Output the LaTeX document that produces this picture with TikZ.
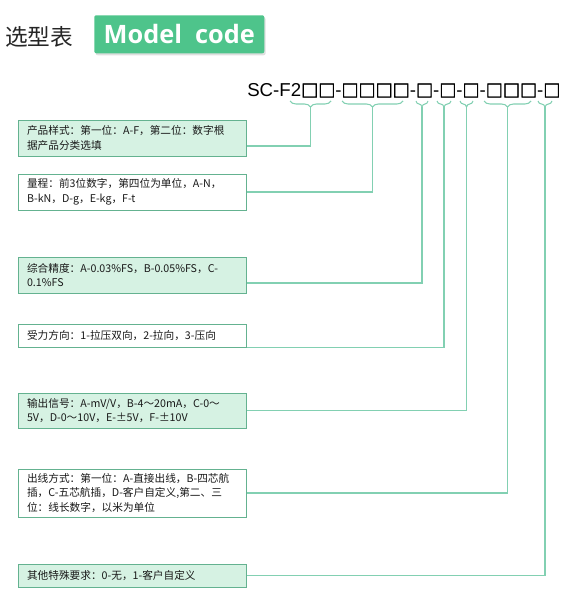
\documentclass[tikz,border=0pt]{standalone}
\usepackage{fontspec}
\usepackage{tikz}
\usetikzlibrary{positioning,calc,shadows,decorations.pathreplacing}
\setmainfont{Noto Sans CJK SC}
\newfontfamily\sqfont{Noto Sans CJK SC}[FakeBold=2.5]
\newfontfamily\codefont{Liberation Sans}
\newfontfamily\titlefont{Open Sans}
\definecolor{boxgreen}{RGB}{214,242,227}
\definecolor{edgegreen}{RGB}{100,178,144}
\definecolor{linkgreen}{RGB}{130,208,178}
\definecolor{titlegreen}{RGB}{78,196,139}
\newcommand{\sq}{{\sqfont\fontsize{12.8}{12.8}\selectfont □}}

\tikzset{
  item/.style={draw=edgegreen, line width=0.6pt, anchor=west, minimum width=171pt,
    text width=158pt, inner xsep=6.5pt, align=left, text=black!90,
    font=\fontsize{8}{10.8}\selectfont},
  filled/.style={item, fill=boxgreen},
  plain/.style={item, fill=white},
  link/.style={linkgreen, line width=0.8pt},
  brace/.style={link, decorate, decoration={brace, amplitude=4.5pt, aspect=0.5}}
}

\begin{document}
\begin{tikzpicture}[x=0.75pt, y=-0.75pt]
    \useasboundingbox (0,0) rectangle (566,616);
    % Heading
    \node[anchor=west, inner sep=0, text=black!85, font=\fontsize{17}{17}\selectfont] (title) at (5,37) {选型表};
    \node[anchor=north west, minimum width=127.5pt, minimum height=28.5pt, inner sep=0,
      fill=titlegreen, rounded corners=1.5pt, drop shadow={shadow xshift=1pt, shadow yshift=-1.5pt, opacity=0.25},
      text=white, font=\titlefont\bfseries\fontsize{19}{19}\selectfont] (model) at (94,15) {Model\ \ code};
    % Code string
    \node[anchor=base west, inner sep=0, font=\codefont\fontsize{14}{14}\selectfont] (code) at (247,97)
      {SC-F2\sq\sq-\sq\sq\sq\sq-\sq-\sq-\sq-\sq\sq\sq-\sq};
    % Braces under the code digits
    \draw[brace] (331,101) -- (290,101) coordinate[midway, yshift=-4.5pt] (t1);
    \draw[brace] (403,101) -- (342,101) coordinate[midway, yshift=-4.5pt] (t2);
    \draw[brace] (428,101) -- (416,101) coordinate[midway, yshift=-4.5pt] (t3);
    \draw[brace] (451,101) -- (437,101) coordinate[midway, yshift=-4.5pt] (t4);
    \draw[brace] (473,101) -- (460,101) coordinate[midway, yshift=-4.5pt] (t5);
    \draw[brace] (531,101) -- (484,101) coordinate[midway, yshift=-4.5pt] (t6);
    \draw[brace] (552,101) -- (538,101) coordinate[midway, yshift=-4.5pt] (t7);
    % Explanation boxes
    \node[filled, minimum height=27pt] (style) at (18,138)
      {产品样式：第一位：A-F，第二位：数字根\\据产品分类选填};
    \node[plain, minimum height=27pt] (range) at (18,192)
      {量程：前3位数字，第四位为单位，A-N，\\B-kN，D-g，E-kg，F-t};
    \node[filled, minimum height=27pt] (accuracy) at (18,275)
      {综合精度：A-0.03\%FS，B-0.05\%FS，C-\\0.1\%FS};
    \node[plain, minimum height=17.25pt] (force) at (18,335.5)
      {受力方向：1-拉压双向，2-拉向，3-压向};
    \node[filled, minimum height=26.25pt] (signal) at (18,410.5)
      {输出信号：A-mV/V，B-4～20mA，C-0～\\5V，D-0～10V，E-±5V，F-±10V};
    \node[plain, minimum height=36pt] (cable) at (18,493)
      {出线方式：第一位：A-直接出线，B-四芯航\\插，C-五芯航插，D-客户自定义,第二、三\\位：线长数字，以米为单位};
    \node[filled, minimum height=17.25pt] (other) at (18,575.5)
      {其他特殊要求：0-无，1-客户自定义};
    % Leaders
    \draw[link] (t1) |- ([yshift=-6pt]style.east);
    \draw[link] (t2) |- (range.east);
    \draw[link] (t3) |- ([yshift=-6pt]accuracy.east);
    \draw[link] (t4) |- (force.south east);
    \draw[link] (t5) |- (signal.east);
    \draw[link] (t6) |- (cable.east);
    \draw[link] (t7) |- (other.east);
  \end{tikzpicture}
\end{document}
